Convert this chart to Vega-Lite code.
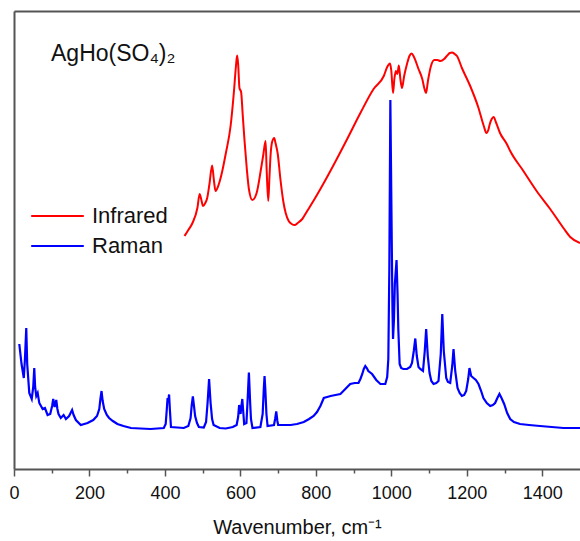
{
  "$schema": "https://vega.github.io/schema/vega-lite/v6.json",
  "width": 566,
  "height": 458,
  "autosize": "none",
  "padding": {"left": 14, "top": 11, "right": 0, "bottom": 72},
  "background": "white",
  "config": {"view": {"stroke": null}, "font": "Liberation Sans"},
  "title": {
    "text": "AgHo(SO₄)₂",
    "anchor": "start",
    "frame": "group",
    "orient": "top",
    "offset": 0,
    "baseline": "alphabetic",
    "dx": 37,
    "dy": 73,
    "fontSize": 23,
    "fontWeight": "normal",
    "font": "Liberation Sans",
    "color": "#111111"
  },
  "datasets": {
    "infrared": [
      {"wavenumber": 452, "intensity": 233}, {"wavenumber": 462, "intensity": 239}, {"wavenumber": 473, "intensity": 246},
      {"wavenumber": 486, "intensity": 261}, {"wavenumber": 492, "intensity": 275}, {"wavenumber": 496, "intensity": 270},
      {"wavenumber": 501, "intensity": 263}, {"wavenumber": 507, "intensity": 266}, {"wavenumber": 512, "intensity": 271},
      {"wavenumber": 518, "intensity": 285}, {"wavenumber": 525, "intensity": 303.5}, {"wavenumber": 530, "intensity": 288},
      {"wavenumber": 534, "intensity": 278}, {"wavenumber": 543, "intensity": 285}, {"wavenumber": 552, "intensity": 298},
      {"wavenumber": 561, "intensity": 315}, {"wavenumber": 574, "intensity": 343}, {"wavenumber": 583, "intensity": 378},
      {"wavenumber": 588, "intensity": 402}, {"wavenumber": 591.3, "intensity": 413.5}, {"wavenumber": 594, "intensity": 405},
      {"wavenumber": 597.5, "intensity": 381}, {"wavenumber": 601.9, "intensity": 377}, {"wavenumber": 606, "intensity": 355},
      {"wavenumber": 611, "intensity": 328}, {"wavenumber": 617, "intensity": 300}, {"wavenumber": 622.5, "intensity": 280},
      {"wavenumber": 631.5, "intensity": 269}, {"wavenumber": 643, "intensity": 276}, {"wavenumber": 655, "intensity": 301},
      {"wavenumber": 661, "intensity": 315}, {"wavenumber": 666.7, "intensity": 328}, {"wavenumber": 669.5, "intensity": 300},
      {"wavenumber": 673.8, "intensity": 268}, {"wavenumber": 677, "intensity": 292}, {"wavenumber": 680, "intensity": 314},
      {"wavenumber": 684, "intensity": 327}, {"wavenumber": 689.7, "intensity": 331}, {"wavenumber": 693, "intensity": 326},
      {"wavenumber": 699, "intensity": 315}, {"wavenumber": 706, "intensity": 290}, {"wavenumber": 713.5, "intensity": 268},
      {"wavenumber": 720, "intensity": 256}, {"wavenumber": 728, "intensity": 248}, {"wavenumber": 736, "intensity": 245},
      {"wavenumber": 744, "intensity": 244}, {"wavenumber": 752, "intensity": 246}, {"wavenumber": 764, "intensity": 250},
      {"wavenumber": 777, "intensity": 258}, {"wavenumber": 795, "intensity": 269},
      {"wavenumber": 812, "intensity": 280}, {"wavenumber": 847, "intensity": 304}, {"wavenumber": 883, "intensity": 330},
      {"wavenumber": 918, "intensity": 356}, {"wavenumber": 953, "intensity": 380}, {"wavenumber": 980, "intensity": 393},
      {"wavenumber": 989, "intensity": 402}, {"wavenumber": 996.6, "intensity": 405.5}, {"wavenumber": 1000, "intensity": 398},
      {"wavenumber": 1004.5, "intensity": 376}, {"wavenumber": 1008, "intensity": 390}, {"wavenumber": 1012, "intensity": 398},
      {"wavenumber": 1016, "intensity": 395}, {"wavenumber": 1019.8, "intensity": 403.5}, {"wavenumber": 1024, "intensity": 390},
      {"wavenumber": 1028.3, "intensity": 381}, {"wavenumber": 1034, "intensity": 393}, {"wavenumber": 1041.5, "intensity": 405},
      {"wavenumber": 1048, "intensity": 413}, {"wavenumber": 1053.7, "intensity": 415.5}, {"wavenumber": 1060, "intensity": 412},
      {"wavenumber": 1072, "intensity": 400}, {"wavenumber": 1082, "intensity": 390}, {"wavenumber": 1088, "intensity": 380},
      {"wavenumber": 1092, "intensity": 376}, {"wavenumber": 1097, "intensity": 388}, {"wavenumber": 1105, "intensity": 403},
      {"wavenumber": 1114, "intensity": 409}, {"wavenumber": 1122, "intensity": 409}, {"wavenumber": 1130, "intensity": 408},
      {"wavenumber": 1140, "intensity": 410}, {"wavenumber": 1147, "intensity": 413}, {"wavenumber": 1155, "intensity": 416},
      {"wavenumber": 1161, "intensity": 416.5}, {"wavenumber": 1168, "intensity": 415}, {"wavenumber": 1174, "intensity": 413},
      {"wavenumber": 1187, "intensity": 401}, {"wavenumber": 1209, "intensity": 383}, {"wavenumber": 1231, "intensity": 361},
      {"wavenumber": 1245, "intensity": 343}, {"wavenumber": 1252, "intensity": 336}, {"wavenumber": 1257, "intensity": 339},
      {"wavenumber": 1261, "intensity": 345}, {"wavenumber": 1266, "intensity": 350}, {"wavenumber": 1271, "intensity": 352},
      {"wavenumber": 1278, "intensity": 346}, {"wavenumber": 1288, "intensity": 336}, {"wavenumber": 1306, "intensity": 325},
      {"wavenumber": 1315, "intensity": 318}, {"wavenumber": 1350, "intensity": 298}, {"wavenumber": 1385, "intensity": 278},
      {"wavenumber": 1421, "intensity": 260}, {"wavenumber": 1456, "intensity": 241}, {"wavenumber": 1474, "intensity": 232},
      {"wavenumber": 1500, "intensity": 226}
    ],
    "raman": [
      {"wavenumber": 14, "intensity": 125}, {"wavenumber": 20, "intensity": 105}, {"wavenumber": 26, "intensity": 91},
      {"wavenumber": 29, "intensity": 110}, {"wavenumber": 32.5, "intensity": 141}, {"wavenumber": 35, "intensity": 105},
      {"wavenumber": 40.5, "intensity": 76}, {"wavenumber": 47, "intensity": 70}, {"wavenumber": 51, "intensity": 82},
      {"wavenumber": 53.7, "intensity": 101}, {"wavenumber": 56, "intensity": 82},
      {"wavenumber": 59, "intensity": 73}, {"wavenumber": 62.7, "intensity": 76}, {"wavenumber": 67, "intensity": 66},
      {"wavenumber": 76, "intensity": 60}, {"wavenumber": 82, "intensity": 61}, {"wavenumber": 89, "intensity": 54},
      {"wavenumber": 96, "intensity": 55}, {"wavenumber": 101, "intensity": 63}, {"wavenumber": 104, "intensity": 70},
      {"wavenumber": 107.7, "intensity": 62},
      {"wavenumber": 112, "intensity": 69}, {"wavenumber": 115, "intensity": 60}, {"wavenumber": 118, "intensity": 55},
      {"wavenumber": 124, "intensity": 51},
      {"wavenumber": 131.5, "intensity": 54}, {"wavenumber": 137.6, "intensity": 50}, {"wavenumber": 146, "intensity": 53},
      {"wavenumber": 150, "intensity": 56}, {"wavenumber": 154, "intensity": 59}, {"wavenumber": 158, "intensity": 54},
      {"wavenumber": 164, "intensity": 49},
      {"wavenumber": 177, "intensity": 44}, {"wavenumber": 195, "intensity": 46}, {"wavenumber": 210, "intensity": 49},
      {"wavenumber": 220, "intensity": 53}, {"wavenumber": 226, "intensity": 60}, {"wavenumber": 229, "intensity": 70},
      {"wavenumber": 232, "intensity": 78}, {"wavenumber": 235, "intensity": 68}, {"wavenumber": 239, "intensity": 60},
      {"wavenumber": 246, "intensity": 54},
      {"wavenumber": 252, "intensity": 51}, {"wavenumber": 262, "intensity": 48}, {"wavenumber": 274, "intensity": 45},
      {"wavenumber": 290, "intensity": 43}, {"wavenumber": 310, "intensity": 41}, {"wavenumber": 335, "intensity": 40.5},
      {"wavenumber": 362, "intensity": 40}, {"wavenumber": 397, "intensity": 41}, {"wavenumber": 402, "intensity": 45},
      {"wavenumber": 405, "intensity": 60},
      {"wavenumber": 407, "intensity": 71}, {"wavenumber": 409, "intensity": 68}, {"wavenumber": 411, "intensity": 74.5},
      {"wavenumber": 413, "intensity": 60},
      {"wavenumber": 416, "intensity": 42}, {"wavenumber": 450, "intensity": 41}, {"wavenumber": 462, "intensity": 43},
      {"wavenumber": 468, "intensity": 51}, {"wavenumber": 471, "intensity": 64}, {"wavenumber": 474, "intensity": 72.5},
      {"wavenumber": 477, "intensity": 63},
      {"wavenumber": 480, "intensity": 53}, {"wavenumber": 485, "intensity": 46}, {"wavenumber": 490, "intensity": 42},
      {"wavenumber": 503, "intensity": 41.5},
      {"wavenumber": 509, "intensity": 47}, {"wavenumber": 513, "intensity": 66}, {"wavenumber": 517, "intensity": 90},
      {"wavenumber": 521, "intensity": 66}, {"wavenumber": 525, "intensity": 50}, {"wavenumber": 529, "intensity": 44},
      {"wavenumber": 545, "intensity": 41}, {"wavenumber": 561, "intensity": 40.5}, {"wavenumber": 580, "intensity": 42},
      {"wavenumber": 590, "intensity": 44}, {"wavenumber": 594, "intensity": 52},
      {"wavenumber": 596.6, "intensity": 64}, {"wavenumber": 599, "intensity": 57}, {"wavenumber": 600.5, "intensity": 55},
      {"wavenumber": 603, "intensity": 64}, {"wavenumber": 605, "intensity": 70}, {"wavenumber": 608, "intensity": 55},
      {"wavenumber": 610, "intensity": 45},
      {"wavenumber": 616, "intensity": 46}, {"wavenumber": 619, "intensity": 68}, {"wavenumber": 622.5, "intensity": 96.5},
      {"wavenumber": 626, "intensity": 65}, {"wavenumber": 628, "intensity": 50}, {"wavenumber": 632, "intensity": 41},
      {"wavenumber": 653, "intensity": 42}, {"wavenumber": 659, "intensity": 55}, {"wavenumber": 662, "intensity": 80},
      {"wavenumber": 664, "intensity": 93}, {"wavenumber": 666, "intensity": 80}, {"wavenumber": 669, "intensity": 55},
      {"wavenumber": 672, "intensity": 43}, {"wavenumber": 689, "intensity": 44}, {"wavenumber": 692, "intensity": 50},
      {"wavenumber": 695, "intensity": 57.5}, {"wavenumber": 698, "intensity": 48}, {"wavenumber": 700, "intensity": 44},
      {"wavenumber": 715, "intensity": 44}, {"wavenumber": 733, "intensity": 44}, {"wavenumber": 750, "intensity": 45},
      {"wavenumber": 768, "intensity": 47}, {"wavenumber": 782, "intensity": 50}, {"wavenumber": 794, "intensity": 53},
      {"wavenumber": 803, "intensity": 57},
      {"wavenumber": 812, "intensity": 63}, {"wavenumber": 821, "intensity": 71}, {"wavenumber": 830, "intensity": 72},
      {"wavenumber": 839, "intensity": 73}, {"wavenumber": 852, "intensity": 74},
      {"wavenumber": 865, "intensity": 75}, {"wavenumber": 878, "intensity": 80}, {"wavenumber": 891, "intensity": 85},
      {"wavenumber": 903, "intensity": 86}, {"wavenumber": 913, "intensity": 86},
      {"wavenumber": 918, "intensity": 90}, {"wavenumber": 923, "intensity": 95}, {"wavenumber": 927, "intensity": 100},
      {"wavenumber": 931, "intensity": 103}, {"wavenumber": 935, "intensity": 101},
      {"wavenumber": 939, "intensity": 98}, {"wavenumber": 949, "intensity": 95}, {"wavenumber": 960, "intensity": 89},
      {"wavenumber": 971, "intensity": 85}, {"wavenumber": 984, "intensity": 85}, {"wavenumber": 989, "intensity": 92},
      {"wavenumber": 992, "intensity": 110}, {"wavenumber": 994.7, "intensity": 200}, {"wavenumber": 997.4, "intensity": 369},
      {"wavenumber": 1000.5, "intensity": 250}, {"wavenumber": 1003, "intensity": 160}, {"wavenumber": 1004.5, "intensity": 130},
      {"wavenumber": 1007, "intensity": 150}, {"wavenumber": 1009.3, "intensity": 185}, {"wavenumber": 1013.8, "intensity": 209},
      {"wavenumber": 1016.5, "intensity": 175}, {"wavenumber": 1018.5, "intensity": 140}, {"wavenumber": 1022, "intensity": 105},
      {"wavenumber": 1026, "intensity": 101},
      {"wavenumber": 1031.7, "intensity": 100}, {"wavenumber": 1041.5, "intensity": 100}, {"wavenumber": 1050, "intensity": 102},
      {"wavenumber": 1054.8, "intensity": 106},
      {"wavenumber": 1059.5, "intensity": 118}, {"wavenumber": 1063.5, "intensity": 130.5}, {"wavenumber": 1067.5, "intensity": 113},
      {"wavenumber": 1072, "intensity": 102}, {"wavenumber": 1076.7, "intensity": 100}, {"wavenumber": 1083.9, "intensity": 98},
      {"wavenumber": 1088.6, "intensity": 118}, {"wavenumber": 1092.3, "intensity": 140}, {"wavenumber": 1096.6, "intensity": 113},
      {"wavenumber": 1101.3, "intensity": 96}, {"wavenumber": 1106, "intensity": 88}, {"wavenumber": 1111.9, "intensity": 85},
      {"wavenumber": 1119, "intensity": 86}, {"wavenumber": 1125, "intensity": 88},
      {"wavenumber": 1131, "intensity": 115}, {"wavenumber": 1135, "intensity": 155}, {"wavenumber": 1139, "intensity": 118},
      {"wavenumber": 1145.5, "intensity": 91}, {"wavenumber": 1150, "intensity": 87}, {"wavenumber": 1156, "intensity": 86},
      {"wavenumber": 1161.4, "intensity": 103},
      {"wavenumber": 1164.8, "intensity": 120}, {"wavenumber": 1169.3, "intensity": 98}, {"wavenumber": 1175.4, "intensity": 81},
      {"wavenumber": 1181, "intensity": 76},
      {"wavenumber": 1187, "intensity": 73}, {"wavenumber": 1193, "intensity": 74}, {"wavenumber": 1198.4, "intensity": 78},
      {"wavenumber": 1203.7, "intensity": 90},
      {"wavenumber": 1207, "intensity": 101}, {"wavenumber": 1211.6, "intensity": 93}, {"wavenumber": 1217.7, "intensity": 91},
      {"wavenumber": 1224, "intensity": 89},
      {"wavenumber": 1231, "intensity": 85}, {"wavenumber": 1238, "intensity": 78}, {"wavenumber": 1244, "intensity": 71},
      {"wavenumber": 1253, "intensity": 66}, {"wavenumber": 1262, "intensity": 63},
      {"wavenumber": 1269, "intensity": 64}, {"wavenumber": 1275, "intensity": 66}, {"wavenumber": 1281, "intensity": 71},
      {"wavenumber": 1286.5, "intensity": 75}, {"wavenumber": 1292, "intensity": 71}, {"wavenumber": 1299, "intensity": 65},
      {"wavenumber": 1307, "intensity": 56},
      {"wavenumber": 1315, "intensity": 50}, {"wavenumber": 1325, "intensity": 47}, {"wavenumber": 1341, "intensity": 45},
      {"wavenumber": 1365, "intensity": 44}, {"wavenumber": 1394, "intensity": 43},
      {"wavenumber": 1425, "intensity": 42}, {"wavenumber": 1456, "intensity": 41}, {"wavenumber": 1500, "intensity": 41}
    ]
  },
  "layer": [
    {
      "data": {"name": "infrared"},
      "mark": {"type": "line", "strokeWidth": 2, "interpolate": "monotone"},
      "encoding": {
        "x": {
          "field": "wavenumber", "type": "quantitative",
          "scale": {"domain": [0, 1500], "nice": false},
          "axis": {"orient": "top", "labels": false, "ticks": false, "title": null, "grid": false, "domainColor": "#555555", "domainWidth": 2}
        },
        "y": {
          "field": "intensity", "type": "quantitative",
          "scale": {"domain": [0, 458], "nice": false},
          "axis": {"orient": "left", "labels": false, "ticks": false, "title": null, "grid": false, "domainColor": "#555555", "domainWidth": 2}
        },
        "color": {
          "datum": "Infrared",
          "scale": {"domain": ["Infrared", "Raman"], "range": ["#ff0000", "#0000ff"]},
          "legend": {
            "orient": "none", "legendX": 16, "legendY": 194, "title": null,
            "symbolType": "stroke", "symbolSize": 2770, "symbolStrokeWidth": 2,
            "clipHeight": 22, "rowPadding": 8, "padding": 0,
            "labelFontSize": 22, "labelFont": "Liberation Sans", "labelColor": "#111111", "labelOffset": 7
          }
        }
      }
    },
    {
      "data": {"name": "raman"},
      "mark": {"type": "line", "strokeWidth": 2.2},
      "encoding": {
        "x": {
          "field": "wavenumber", "type": "quantitative",
          "scale": {"domain": [0, 1500], "nice": false},
          "axis": {
            "orient": "bottom",
            "values": [0, 100, 200, 300, 400, 500, 600, 700, 800, 900, 1000, 1100, 1200, 1300, 1400],
            "labelExpr": "datum.value % 200 === 0 ? datum.label : ''",
            "format": "d",
            "tickSize": {"condition": {"test": "datum.value % 200 === 0", "value": 7}, "value": 4},
            "tickColor": "#555555", "tickWidth": 1.5,
            "domainColor": "#555555", "domainWidth": 2,
            "labelFontSize": 18, "labelFont": "Liberation Sans", "labelColor": "#111111",
            "labelPadding": 8, "labelFlush": false, "labelOverlap": false,
            "grid": false,
            "title": "Wavenumber, cm⁻¹",
            "titleFont": "Liberation Sans", "titleFontSize": 20, "titleFontWeight": "normal", "titleColor": "#111111",
            "titleBaseline": "alphabetic", "titleY": 64
          }
        },
        "y": {
          "field": "intensity", "type": "quantitative",
          "scale": {"domain": [0, 458], "nice": false},
          "axis": {"orient": "left", "labels": false, "ticks": false, "title": null, "grid": false, "domainColor": "#555555", "domainWidth": 2}
        },
        "color": {
          "datum": "Raman",
          "scale": {"domain": ["Infrared", "Raman"], "range": ["#ff0000", "#0000ff"]},
          "legend": {
            "orient": "none", "legendX": 16, "legendY": 194, "title": null,
            "symbolType": "stroke", "symbolSize": 2770, "symbolStrokeWidth": 2,
            "clipHeight": 22, "rowPadding": 8, "padding": 0,
            "labelFontSize": 22, "labelFont": "Liberation Sans", "labelColor": "#111111", "labelOffset": 7
          }
        }
      }
    }
  ],
  "resolve": {"axis": {"x": "independent"}}
}
